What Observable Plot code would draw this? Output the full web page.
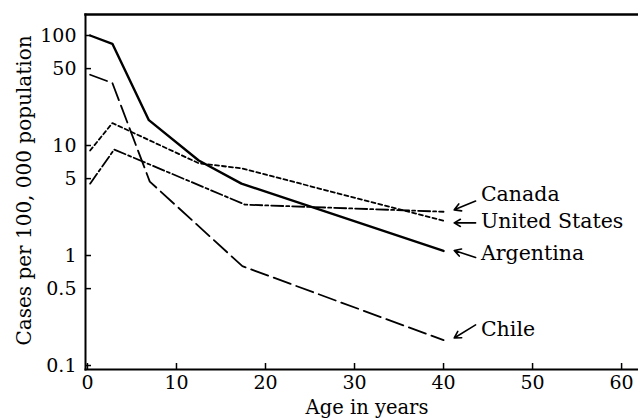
<!DOCTYPE html>
<html><head><meta charset="utf-8">
<script src="https://cdn.jsdelivr.net/npm/d3@7"></script>
<script src="https://cdn.jsdelivr.net/npm/@observablehq/plot@0.6"></script>
<style>body{margin:0;background:#fff} svg{display:block}</style>
</head><body><div id="chart"></div>
<script>
// Ages (years) and cases per 100,000 population
const argAges = [0.3, 2.8, 6.9, 12.5, 17.3, 40];
const argValues = [100, 84, 17, 7.3, 4.5, 1.1];
const chileAges = [0.3, 2.8, 7, 17.4, 40];
const chileValues = [44, 37, 4.7, 0.8, 0.17];
const canadaAges = [0.3, 3, 17.7, 40];
const canadaValues = [4.5, 9.2, 2.9, 2.5];
const usAges = [0.3, 2.8, 12.5, 17.3, 40];
const usValues = [9, 16, 6.9, 6.2, 2.07];

// Series labels and their annotation values
const countries = ["Canada", "United States", "Argentina", "Chile"];
const labelValues = [3.6, 2.04, 1.05, 0.211];
const arrowFromValues = [3.13, 1.98, 0.96, 0.234];
const arrowToValues = [2.6, 1.98, 1.11, 0.178];

const xTicks = [0, 10, 20, 30, 40, 50, 60];
const yTicks = [0.1, 0.5, 1, 5, 10, 50, 100];
const yTickLabels = ["0.1", "0.5", "1", "5", "10", "50", "100"];
const xTitle = "Age in years";
const yTitle = "Cases per 100, 000 population";

const labelAge = 44.2, arrowFromAge = 43.6, arrowToAge = 41.2;

const W = 638, H = 419, mL = 85, mR = 0, mT = 14, mB = 50;
const plotW = W - mL - mR, plotH = H - mT - mB;

const zip = (xs, ys) => xs.map((x, i) => ({x, y: ys[i]}));
const ann = countries.map((c, i) => ({c, ly: labelValues[i], fy: arrowFromValues[i], ty: arrowToValues[i]}));
const yTickData = yTicks.map((v, i) => ({v, t: yTickLabels[i]}));

const chart = Plot.plot({
  width: W,
  height: H,
  marginLeft: mL,
  marginRight: mR,
  marginTop: mT,
  marginBottom: mB,
  style: {fontFamily: "'DejaVu Serif', serif", fontSize: "19px", color: "#000", background: "#fff"},
  x: {domain: [-0.22, 61.9], axis: null},
  y: {type: "log", domain: [0.092, 155.2], axis: null},
  marks: [
    // tick marks, pointing inward
    Plot.tickX(xTicks, {x: d => d, stroke: "#000", strokeWidth: 1.5, insetTop: plotH - 6}),
    Plot.tickY(yTicks, {y: d => d, stroke: "#000", strokeWidth: 1.5, insetRight: plotW - 6}),
    // tick labels
    Plot.text(xTicks, {x: d => d, text: d => String(d), frameAnchor: "bottom", dy: 13.5, lineAnchor: "middle", fill: "#000", fontSize: 19}),
    Plot.text(yTickData, {y: "v", text: "t", frameAnchor: "left", dx: -9, textAnchor: "end", lineAnchor: "middle", fill: "#000", fontSize: 19}),
    // axis titles
    Plot.text([xTitle], {text: d => d, frameAnchor: "bottom", dx: 5, dy: 38.5, textAnchor: "middle", lineAnchor: "middle", fill: "#000", fontSize: 19.5}),
    Plot.text([yTitle], {text: d => d, frameAnchor: "left", rotate: -90, dx: -61, dy: -1.5, textAnchor: "middle", lineAnchor: "middle", fill: "#000", fontSize: 20}),
    // frame lines
    Plot.frame({anchor: "top", strokeWidth: 2.5}),
    Plot.frame({anchor: "left", strokeWidth: 2}),
    Plot.frame({anchor: "bottom", strokeWidth: 2}),
    // series
    Plot.line(zip(argAges, argValues), {x: "x", y: "y", stroke: "#000", strokeWidth: 2.4}),
    Plot.line(zip(chileAges, chileValues), {x: "x", y: "y", stroke: "#000", strokeWidth: 1.8, strokeDasharray: "18,6"}),
    Plot.line(zip(canadaAges, canadaValues), {x: "x", y: "y", stroke: "#000", strokeWidth: 1.8, strokeDasharray: "12,3,3,3"}),
    Plot.line(zip(usAges, usValues), {x: "x", y: "y", stroke: "#000", strokeWidth: 1.8, strokeDasharray: "4,3"}),
    // annotations
    Plot.arrow(ann, {x1: () => arrowFromAge, y1: "fy", x2: () => arrowToAge, y2: "ty", stroke: "#000", strokeWidth: 1.6, headLength: 7}),
    Plot.text(ann, {x: () => labelAge, y: "ly", text: "c", textAnchor: "start", lineAnchor: "middle", fill: "#000", fontSize: 20.5})
  ]
});
document.getElementById("chart").appendChild(chart);
</script>
</body></html>
